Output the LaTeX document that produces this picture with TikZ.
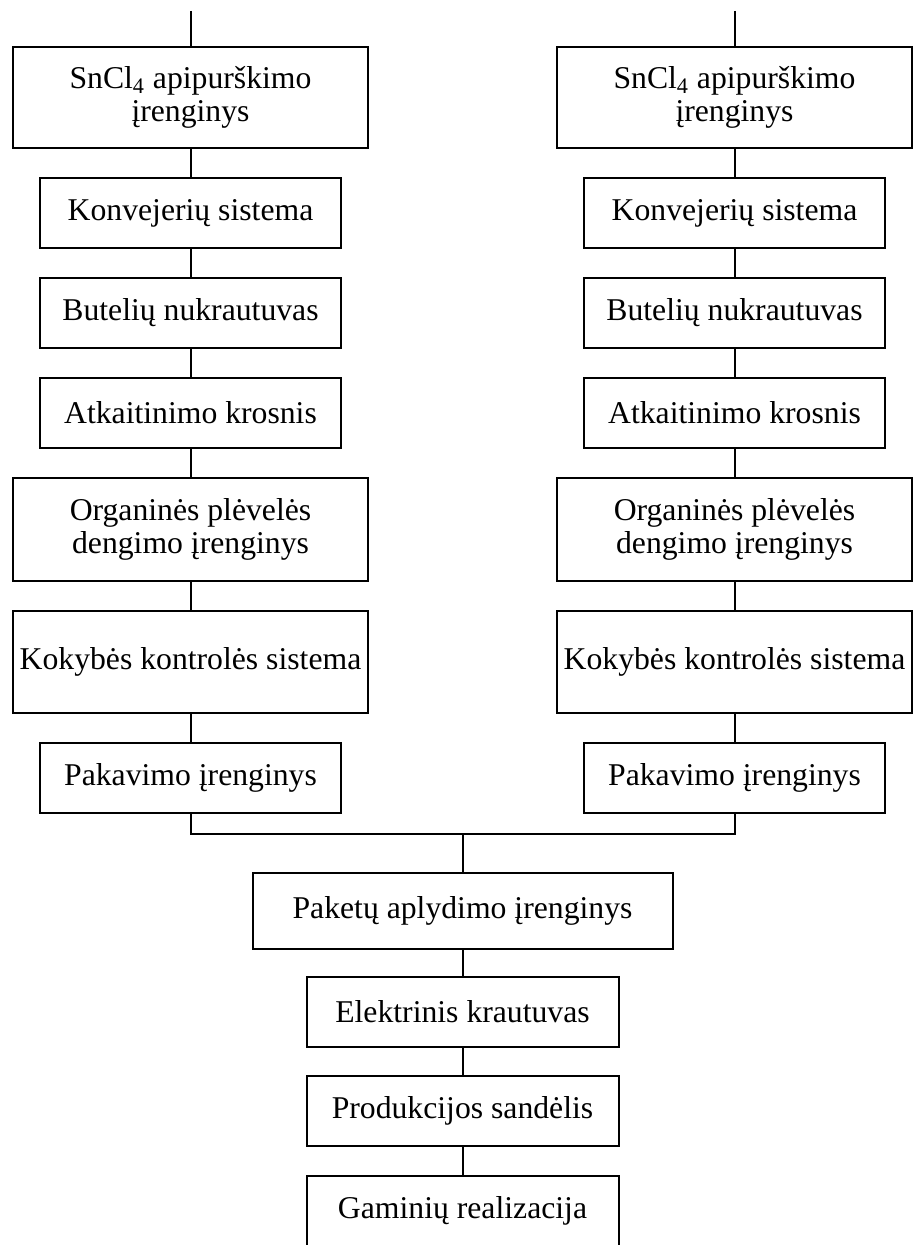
\documentclass[tikz,border=0pt]{standalone}
\usepackage{fontspec}
\setmainfont{Liberation Serif}
\begin{document}
\begin{tikzpicture}[x=0.5pt,y=-0.5pt,
  box/.style={draw, line width=1pt, inner sep=0pt, align=center,
    font=\fontsize{15.85}{16.5}\selectfont},
  wide/.style={box, minimum width=177.75pt},
  narrow/.style={box, minimum width=150.5pt, minimum height=35pt},
  link/.style={line width=1pt}]
\useasboundingbox (0,0) rectangle (912,1245);
% left column
\coordinate (lt) at (190.5,11);
\node[wide, minimum height=50.5pt] (l1) at (190.5,97.5) {SnCl\textsubscript{4} apipurškimo\\įrenginys};
\node[narrow] (l2) at (190.5,213) {Konvejerių sistema};
\node[narrow] (l3) at (190.5,313) {Butelių nukrautuvas};
\node[narrow] (l4) at (190.5,413) {Atkaitinimo krosnis};
\node[wide, minimum height=51.5pt] (l5) at (190.5,529.5) {Organinės plėvelės\\dengimo įrenginys};
\node[wide, minimum height=51pt] (l6) at (190.5,662) {Kokybės kontrolės sistema};
\node[narrow] (l7) at (190.5,778) {Pakavimo įrenginys};
% right column
\coordinate (rt) at (734.5,11);
\node[wide, minimum height=50.5pt] (r1) at (734.5,97.5) {SnCl\textsubscript{4} apipurškimo\\įrenginys};
\node[narrow] (r2) at (734.5,213) {Konvejerių sistema};
\node[narrow] (r3) at (734.5,313) {Butelių nukrautuvas};
\node[narrow] (r4) at (734.5,413) {Atkaitinimo krosnis};
\node[wide, minimum height=51.5pt] (r5) at (734.5,529.5) {Organinės plėvelės\\dengimo įrenginys};
\node[wide, minimum height=51pt] (r6) at (734.5,662) {Kokybės kontrolės sistema};
\node[narrow] (r7) at (734.5,778) {Pakavimo įrenginys};
% bottom
\coordinate (jm) at (462.5,834);
\node[box, minimum width=210pt, minimum height=38pt] (pak) at (462.5,911) {Paketų aplydimo įrenginys};
\node[box, minimum width=156pt, minimum height=35pt] (elk) at (462.5,1012) {Elektrinis krautuvas};
\node[box, minimum width=156pt, minimum height=35pt] (prod) at (462.5,1111) {Produkcijos sandėlis};
\node[box, minimum width=156pt, minimum height=35pt] (gam) at (462.5,1211) {Gaminių realizacija};
% connectors
\draw[link] (lt) -- (l1);
\draw[link] (l1) -- (l2);
\draw[link] (l2) -- (l3);
\draw[link] (l3) -- (l4);
\draw[link] (l4) -- (l5);
\draw[link] (l5) -- (l6);
\draw[link] (l6) -- (l7);
\draw[link] (rt) -- (r1);
\draw[link] (r1) -- (r2);
\draw[link] (r2) -- (r3);
\draw[link] (r3) -- (r4);
\draw[link] (r4) -- (r5);
\draw[link] (r5) -- (r6);
\draw[link] (r6) -- (r7);
\draw[link] (l7.south) |- (jm) -| (r7.south);
\draw[link] (jm) -- (pak);
\draw[link] (pak) -- (elk);
\draw[link] (elk) -- (prod);
\draw[link] (prod) -- (gam);
\end{tikzpicture}
\end{document}
